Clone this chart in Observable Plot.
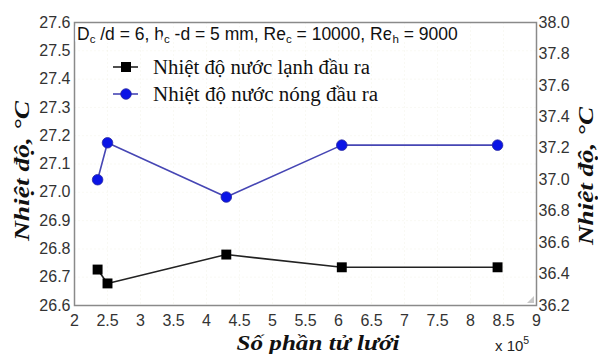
<!DOCTYPE html>
<html>
<head>
<meta charset="utf-8">
<script src="https://cdn.jsdelivr.net/npm/d3@7"></script>
<script src="https://cdn.jsdelivr.net/npm/@observablehq/plot@0.6"></script>
<style>
  body { margin: 0; background: #fff; }
  #chart { width: 598px; height: 354px; }
</style>
</head>
<body>
<div id="chart"></div>
<script>
// Data (x in units of 10^5 mesh elements)
const meshX = [2.35, 2.5, 4.3, 6.05, 8.41];
const coldOut = [26.727, 26.678, 26.78, 26.735, 26.735];  // left axis
const hotOut = [37.0, 37.235, 36.89, 37.22, 37.22];        // right axis
const xTicks = [2, 2.5, 3, 3.5, 4, 4.5, 5, 5.5, 6, 6.5, 7, 7.5, 8, 8.5, 9];
const leftTicks = [26.6, 26.7, 26.8, 26.9, 27.0, 27.1, 27.2, 27.3, 27.4, 27.5, 27.6];
const rightTicks = [36.2, 36.4, 36.6, 36.8, 37.0, 37.2, 37.4, 37.6, 37.8, 38.0];
const legendLabels = ["Nhiệt độ nước lạnh đầu ra", "Nhiệt độ nước nóng đầu ra"];
const yLabel = "Nhiệt độ, °C";
const xLabel = "Số phần tử lưới";

const xDom = [2, 9], leftDom = [26.6, 27.6], rightDom = [36.2, 38.0];
const toLeft = h => leftDom[0] + (h - rightDom[0]) / (rightDom[1] - rightDom[0]) * (leftDom[1] - leftDom[0]);
const fromLeft = v => rightDom[0] + (v - leftDom[0]) / (leftDom[1] - leftDom[0]) * (rightDom[1] - rightDom[0]);

const cold = meshX.map((x, i) => ({x, y: coldOut[i]}));
const hot = meshX.map((x, i) => ({x, y: toLeft(hotOut[i])}));

const gridStyle = {stroke: "#c2c290", strokeWidth: 1};

const chart = Plot.plot({
  width: 598, height: 354,
  marginLeft: 74, marginRight: 62, marginTop: 22, marginBottom: 49,
  style: {fontFamily: "'Liberation Sans', Arial, sans-serif", fontSize: "16px", color: "#333", background: "#fff"},
  x: {domain: xDom},
  y: {domain: leftDom},
  marks: [
    Plot.gridX(xTicks.slice(1, -1), gridStyle),
    Plot.gridY(leftTicks.slice(1, -1), gridStyle),
    Plot.frame({stroke: "#8a8a8a", fill: "none", strokeWidth: 1.5}),
    Plot.axisX(xTicks, {tickSize: 0, tickPadding: 9, label: null, tickFormat: d => String(d), fontSize: 16, fill: "#333"}),
    Plot.axisY(leftTicks, {tickSize: 0, tickPadding: 4, label: null, tickFormat: d3.format(".1f"), fontSize: 16, fill: "#333"}),
    Plot.axisY(rightTicks.map(toLeft), {anchor: "right", tickSize: 0, tickPadding: 2, label: null, tickFormat: d => d3.format(".1f")(fromLeft(d)), fontSize: 16, fill: "#333"}),
    Plot.line(cold, {x: "x", y: "y", stroke: "#222", strokeWidth: 1.6}),
    Plot.dot(cold, {x: "x", y: "y", symbol: "square", r: 5.6, fill: "#000", stroke: "none"}),
    Plot.line(hot, {x: "x", y: "y", stroke: "#4646b4", strokeWidth: 1.6}),
    Plot.dot(hot, {x: "x", y: "y", symbol: "circle", r: 5.3, fill: "#0a14e6", stroke: "#2a2aa0", strokeWidth: 0.8})
  ]
});
document.getElementById("chart").appendChild(chart);

// make grid lines dotted after render
d3.select(chart).selectAll("g[aria-label='x-grid'] line, g[aria-label='y-grid'] line")
  .attr("stroke-dasharray", "2,2");

// Overlays: title, legend, axis labels
const svg = d3.select(chart);
const serif = "'Liberation Serif', 'Times New Roman', serif";

// Title with subscripts
const title = svg.append("text")
  .attr("x", 77).attr("y", 40).attr("text-anchor", "start")
  .attr("font-family", "'Liberation Sans', Arial, sans-serif")
  .attr("font-size", 17.5).attr("fill", "#111")
  .attr("stroke", "#fff").attr("stroke-width", 6).attr("paint-order", "stroke")
  .attr("stroke-linejoin", "round");
const parts = [["D", false], ["c", true], [" /d = 6, h", false], ["c", true], [" -d = 5 mm, Re", false], ["c", true], [" = 10000, Re", false], ["h", true], [" = 9000", false]];
parts.forEach(([t, sub], i) => {
  const prevSub = i > 0 && parts[i - 1][1];
  const ts = title.append("tspan").text(t);
  if (sub) ts.attr("font-size", 11.5).attr("dy", 3);
  else ts.attr("dy", prevSub ? -3 : 0);
});
title.style("white-space", "pre");

// Legend
const lg = svg.append("g").attr("text-anchor", "start");
const items = [{y: 67, kind: "square", color: "#000", line: "#222", len: 217}, {y: 94, kind: "circle", color: "#0a14e6", line: "#4646b4", len: 225}];
items.forEach((it, i) => {
  lg.append("line").attr("x1", 113).attr("x2", 138).attr("y1", it.y).attr("y2", it.y)
    .attr("stroke", it.line).attr("stroke-width", 1.6);
  if (it.kind === "square") {
    lg.append("rect").attr("x", 121).attr("y", it.y - 5).attr("width", 10).attr("height", 10).attr("fill", it.color);
  } else {
    lg.append("circle").attr("cx", 126).attr("cy", it.y).attr("r", 5.3).attr("fill", it.color).attr("stroke", "#2a2aa0").attr("stroke-width", 0.8);
  }
  lg.append("text").attr("x", 153).attr("y", it.y).attr("dy", "0.33em")
    .attr("font-family", serif).attr("font-size", 20).attr("fill", "#111")
    .attr("textLength", it.len).attr("lengthAdjust", "spacingAndGlyphs")
    .text(legendLabels[i]);
});

// Axis labels
const labStyle = sel => sel.attr("font-family", serif).attr("font-size", 21)
  .attr("font-weight", "bold").attr("font-style", "italic").attr("fill", "#111").attr("text-anchor", "middle")
  .attr("lengthAdjust", "spacingAndGlyphs");
svg.append("text").call(labStyle).attr("textLength", 140).attr("transform", "translate(29,171) rotate(-90)").text(yLabel);
svg.append("text").call(labStyle).attr("textLength", 138).attr("transform", "translate(593,176) rotate(-90)").text(yLabel);
svg.append("text").call(labStyle).attr("textLength", 163).attr("x", 318).attr("y", 350).text(xLabel);

// x 10^5
const ex = svg.append("text").attr("x", 495).attr("y", 351).attr("text-anchor", "start")
  .attr("font-family", "'Liberation Sans', Arial, sans-serif").attr("font-size", 15).attr("fill", "#222");
ex.append("tspan").text("x 10");
ex.append("tspan").attr("font-size", 10.5).attr("dy", -7).text("5");

// small corner grip
svg.append("path").attr("d", "M534,296 L534,303 L527,303 Z").attr("fill", "#c8c8c8");
</script>
</body>
</html>
